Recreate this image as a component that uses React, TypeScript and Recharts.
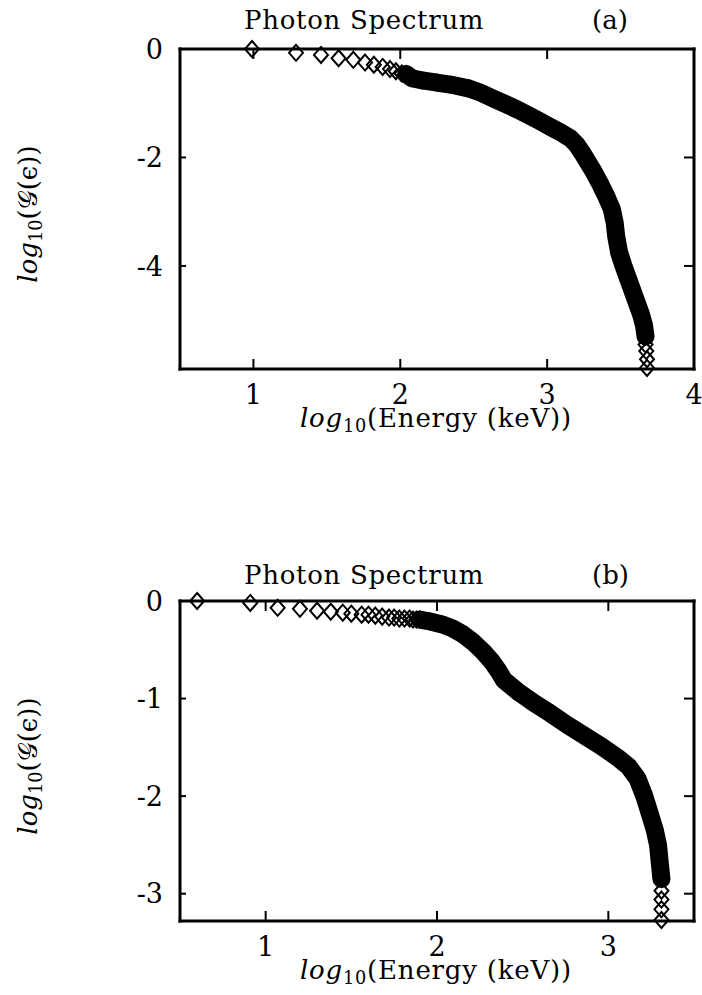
import React from 'react';
import { ScatterChart, Scatter, XAxis, YAxis, ReferenceLine } from 'recharts';

const FONT = 'DejaVu Serif';

// panel (a)
const aSparseX = [0.99, 1.29, 1.46, 1.58, 1.68, 1.76, 1.82, 1.88, 1.93, 1.97, 2.01];
const aSparseY = [0, -0.07, -0.11, -0.17, -0.2, -0.25, -0.29, -0.33, -0.37, -0.41, -0.45];
const aBandX = [2.04, 2.08, 2.15, 2.25, 2.35, 2.47, 2.55, 2.63, 2.72, 2.8, 2.88, 2.95, 3.03, 3.1, 3.16, 3.2, 3.24, 3.28, 3.31, 3.36, 3.4, 3.44, 3.46, 3.47, 3.49, 3.52, 3.56, 3.6, 3.64, 3.66, 3.67];
const aBandY = [-0.46, -0.54, -0.58, -0.62, -0.66, -0.73, -0.81, -0.91, -1.02, -1.12, -1.23, -1.33, -1.45, -1.55, -1.65, -1.76, -1.92, -2.1, -2.23, -2.48, -2.7, -2.95, -3.2, -3.45, -3.75, -4.0, -4.3, -4.6, -4.9, -5.1, -5.3];
const aTailX = [3.67, 3.675, 3.68, 3.68];
const aTailY = [-5.45, -5.57, -5.72, -5.88];
const aXTicks = [1, 2, 3, 4];
const aYTicks = [0, -2, -4];

// panel (b)
const bSparseX = [0.6, 0.91, 1.07, 1.2, 1.3, 1.38, 1.45, 1.5, 1.56, 1.6, 1.64, 1.68, 1.72, 1.75, 1.78, 1.81, 1.84, 1.86, 1.88];
const bSparseY = [0, -0.02, -0.07, -0.08, -0.1, -0.11, -0.12, -0.13, -0.14, -0.14, -0.15, -0.16, -0.17, -0.17, -0.18, -0.18, -0.18, -0.19, -0.19];
const bBandX = [1.9, 1.96, 2.03, 2.09, 2.15, 2.21, 2.27, 2.32, 2.36, 2.39, 2.48, 2.57, 2.66, 2.76, 2.86, 2.96, 3.05, 3.12, 3.17, 3.21, 3.24, 3.27, 3.29, 3.3, 3.31];
const bBandY = [-0.19, -0.21, -0.24, -0.28, -0.34, -0.42, -0.52, -0.62, -0.72, -0.81, -0.94, -1.05, -1.15, -1.27, -1.38, -1.49, -1.6, -1.7, -1.82, -2.0, -2.17, -2.34, -2.5, -2.68, -2.85];
const bTailX = [3.31, 3.31, 3.31, 3.31];
const bTailY = [-2.97, -3.06, -3.16, -3.27];
const bXTicks = [1, 2, 3];
const bYTicks = [0, -1, -2, -3];

const zip = (xs: number[], ys: number[]) => xs.map((x, i) => ({ x, y: ys[i] }));

const Diamond = (props: any) => {
  const { cx, cy } = props;
  if (cx == null || cy == null) return null;
  return (
    <path
      d={`M${cx},${cy - 8}L${cx + 7},${cy}L${cx},${cy + 8}L${cx - 7},${cy}Z`}
      fill="none"
      stroke="#000"
      strokeWidth={2}
    />
  );
};

const Log10 = () => (
  <>
    <i>log</i>
    <span style={{ fontSize: '0.68em', position: 'relative', top: '0.3em' }}>10</span>
  </>
);

const PLOT_W = 514;
const PLOT_H = 320;

function Panel({ top, titleTop, tag, xDomain, yDomain, xTicks, yTicks, sparse, band, tail }: any) {
  const [x0, x1] = xDomain;
  const [y0, y1] = yDomain;
  // inward tick length (~10px) expressed in data units
  const dx = ((x1 - x0) * 10) / PLOT_W;
  const dy = ((y1 - y0) * 10) / PLOT_H;
  const axisLine = { stroke: '#000', strokeWidth: 3, strokeLinecap: 'square' };
  const tickStyle = { fill: '#000', fontSize: 27, fontFamily: FONT };
  const text = { position: 'absolute', fontFamily: FONT, fontSize: 26, lineHeight: '31px', color: '#000', whiteSpace: 'nowrap' } as const;
  const seg = { xAxisId: 'b', yAxisId: 'l', stroke: '#000', strokeWidth: 2, ifOverflow: 'visible' as const };
  return (
    <div style={{ position: 'absolute', left: 0, top, width: 702, height: 440 }}>
      <ScatterChart width={702} height={440} margin={{ top: 48, right: 7, bottom: 31, left: 130 }}>
        <XAxis xAxisId="b" type="number" dataKey="x" domain={xDomain} ticks={xTicks}
          height={40} tickSize={0} tickMargin={16} axisLine={axisLine} tickLine={false} tick={tickStyle} />
        <XAxis xAxisId="t" orientation="top" type="number" dataKey="x" domain={xDomain} ticks={xTicks}
          height={1} tickSize={0} axisLine={axisLine} tickLine={false} tick={false} />
        <YAxis yAxisId="l" type="number" dataKey="y" domain={yDomain} ticks={yTicks}
          width={50} tickSize={0} tickMargin={17} axisLine={axisLine} tickLine={false} tick={tickStyle} />
        <YAxis yAxisId="r" orientation="right" type="number" dataKey="y" domain={yDomain} ticks={yTicks}
          width={1} tickSize={0} axisLine={axisLine} tickLine={false} tick={false} />
        {xTicks.filter((t: number) => t < x1).map((t: number) => (
          <ReferenceLine key={`xb${t}`} {...seg} segment={[{ x: t, y: y0 }, { x: t, y: y0 + dy }]} />
        ))}
        {xTicks.filter((t: number) => t < x1).map((t: number) => (
          <ReferenceLine key={`xt${t}`} {...seg} segment={[{ x: t, y: y1 }, { x: t, y: y1 - dy }]} />
        ))}
        {yTicks.filter((t: number) => t < y1).map((t: number) => (
          <ReferenceLine key={`yl${t}`} {...seg} segment={[{ x: x0, y: t }, { x: x0 + dx * 0.6, y: t }]} />
        ))}
        {yTicks.filter((t: number) => t < y1).map((t: number) => (
          <ReferenceLine key={`yr${t}`} {...seg} segment={[{ x: x1, y: t }, { x: x1 - dx, y: t }]} />
        ))}
        <Scatter data={band} xAxisId="b" yAxisId="l" shape={Diamond} isAnimationActive={false}
          line={{ stroke: '#000', strokeWidth: 18, strokeLinejoin: 'round', strokeLinecap: 'round' }} />
        <Scatter data={sparse} xAxisId="b" yAxisId="l" shape={Diamond} isAnimationActive={false} />
        <Scatter data={tail} xAxisId="b" yAxisId="l" shape={Diamond} isAnimationActive={false} />
        <Scatter data={[]} xAxisId="t" yAxisId="r" isAnimationActive={false} />
      </ScatterChart>
      <div style={{ ...text, left: 244, top: titleTop, letterSpacing: 0.7 }}>Photon Spectrum</div>
      <div style={{ ...text, left: 592, top: titleTop }}>{tag}</div>
      <div style={{ ...text, left: 300, top: 403, letterSpacing: 0.8 }}>
        <Log10 />(Energy (keV))
      </div>
      <div style={{ ...text, left: -70, top: 197, width: 200, textAlign: 'center', transform: 'rotate(-90deg)' }}>
        <Log10 />(𝒢(ϵ))
      </div>
    </div>
  );
}

export default function App() {
  return (
    <div style={{ position: 'absolute', left: 0, top: 0, width: 702, height: 995, background: '#fff' }}>
      <Panel top={0} titleTop={5} tag="(a)" xDomain={[0.5, 4]} yDomain={[-5.9, 0]} xTicks={aXTicks} yTicks={aYTicks}
        sparse={zip(aSparseX, aSparseY)} band={zip(aBandX, aBandY)} tail={zip(aTailX, aTailY)} />
      <Panel top={552} titleTop={8} tag="(b)" xDomain={[0.5, 3.5]} yDomain={[-3.28, 0]} xTicks={bXTicks} yTicks={bYTicks}
        sparse={zip(bSparseX, bSparseY)} band={zip(bBandX, bBandY)} tail={zip(bTailX, bTailY)} />
    </div>
  );
}
